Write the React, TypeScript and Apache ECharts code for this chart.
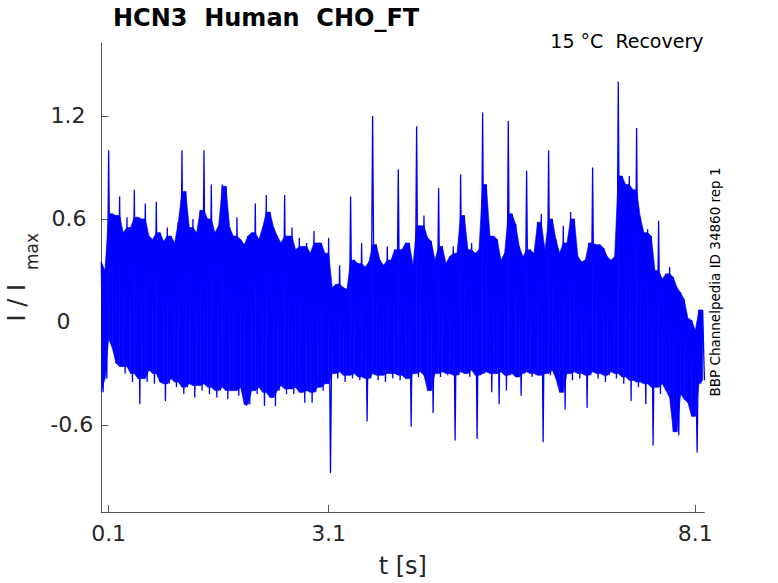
import React, { useEffect, useRef } from "react";
import * as echarts from "echarts";

// ---- data ----
const xTicks = [0.1, 3.1, 8.1];
const xTickLabels = ["0.1", "3.1", "8.1"];
const yTicks = [-0.6, 0, 0.6, 1.2];
const yTickLabels = ["-0.6", "0", "0.6", "1.2"];

// sampling step of the binned trace [s]
const binStep = 0.05;

// per-bin maxima of I/Imax (bin i starts at t = i * binStep)
const upperValues = [
  0.35, 0.30, 1.00, 0.63, 0.62, 0.73, 0.52, 0.61, 0.55, 0.77,
  0.61, 0.60, 0.69, 0.50, 0.48, 0.70, 0.52, 0.47, 0.55, 0.50,
  0.46, 0.58, 1.00, 0.76, 0.55, 0.60, 0.52, 0.65, 1.00, 0.60,
  0.80, 0.52, 0.56, 0.80, 0.79, 0.55, 0.50, 0.61, 0.48, 0.45,
  0.50, 0.52, 0.69, 0.48, 0.55, 0.74, 0.64, 0.55, 0.50, 0.46,
  0.74, 0.50, 0.55, 0.42, 0.49, 0.44, 0.46, 0.40, 0.53, 0.46,
  0.46, 0.40, 0.49, 0.20, 0.22, 0.33, 0.20, 0.19, 0.73, 0.36,
  0.34, 0.46, 0.32, 0.35, 1.20, 0.45, 0.36, 0.33, 0.44, 0.36,
  0.42, 0.89, 0.42, 0.46, 0.46, 0.33, 1.14, 0.56, 0.62, 0.49,
  0.47, 0.36, 0.78, 0.44, 0.34, 0.38, 0.44, 0.40, 0.86, 0.62,
  0.42, 0.46, 0.40, 0.42, 1.22, 0.80, 0.50, 0.50, 0.48, 0.36,
  0.40, 1.17, 0.63, 0.57, 0.44, 0.38, 0.88, 0.42, 0.40, 0.58,
  0.63, 0.42, 1.00, 0.60, 0.48, 0.40, 0.56, 0.46, 0.64, 0.60,
  0.38, 0.35, 0.36, 0.46, 0.90, 0.45, 0.45, 0.43, 0.38, 0.36,
  0.38, 1.40, 0.85, 0.80, 0.85, 0.77, 1.13, 0.61, 0.52, 0.54,
  0.50, 0.30, 0.59, 0.25, 0.28, 0.32, 0.26, 0.20, 0.17, 0.13,
  0.02, 0.01, -0.05, 0.07, 0.07,
];

// per-bin minima of I/Imax
const lowerValues = [
  -0.41, -0.33, -0.10, -0.15, -0.24, -0.26, -0.30, -0.26, -0.35, -0.30,
  -0.48, -0.33, -0.35, -0.28, -0.36, -0.30, -0.35, -0.46, -0.36, -0.33,
  -0.38, -0.35, -0.42, -0.38, -0.36, -0.44, -0.37, -0.40, -0.36, -0.42,
  -0.38, -0.44, -0.40, -0.38, -0.45, -0.40, -0.40, -0.43, -0.38, -0.49,
  -0.48, -0.40, -0.42, -0.38, -0.49, -0.41, -0.44, -0.49, -0.40, -0.37,
  -0.42, -0.39, -0.42, -0.38, -0.41, -0.47, -0.40, -0.47, -0.41, -0.38,
  -0.40, -0.36, -0.88, -0.30, -0.33, -0.29, -0.35, -0.31, -0.33, -0.30,
  -0.34, -0.32, -0.58, -0.33, -0.30, -0.34, -0.31, -0.35, -0.30, -0.33,
  -0.30, -0.34, -0.31, -0.33, -0.61, -0.30, -0.32, -0.29, -0.31, -0.40,
  -0.53, -0.30, -0.32, -0.29, -0.31, -0.30, -0.69, -0.31, -0.29, -0.30,
  -0.32, -0.28, -0.68, -0.31, -0.30, -0.29, -0.41, -0.30, -0.48, -0.29,
  -0.40, -0.31, -0.30, -0.32, -0.43, -0.30, -0.29, -0.32, -0.30, -0.31,
  -0.70, -0.30, -0.31, -0.28, -0.33, -0.41, -0.51, -0.30, -0.34, -0.29,
  -0.33, -0.30, -0.50, -0.31, -0.29, -0.33, -0.30, -0.35, -0.31, -0.29,
  -0.33, -0.30, -0.36, -0.32, -0.46, -0.34, -0.38, -0.35, -0.48, -0.36,
  -0.72, -0.38, -0.42, -0.36, -0.40, -0.44, -0.64, -0.66, -0.42, -0.45,
  -0.47, -0.55, -0.76, -0.36, -0.34,
];

const FONT = '"DejaVu Sans", "Noto Sans", sans-serif';
const AXIS_COLOR = "#555555";
const TEXT_COLOR = "#262626";
const TRACE_COLOR = "#0000ff";

export default function App() {
  const ref = useRef<HTMLDivElement>(null);

  useEffect(() => {
    if (!ref.current) return;
    const chart = echarts.init(ref.current, null, { renderer: "svg" });

    const n = upperValues.length;
    // zig-zag trace: bin maximum at t, bin minimum half a bin later
    const trace: number[][] = [];
    for (let i = 0; i < n; i++) {
      const t = Number((i * binStep).toFixed(4));
      trace.push([t, upperValues[i]]);
      trace.push([Number((t + binStep / 2).toFixed(4)), lowerValues[i]]);
    }
    // dense core of the trace: isolated spikes are left to the thin line
    const coreHi = upperValues.map((v, i) =>
      Math.min(v, Math.max(upperValues[Math.max(0, i - 1)], upperValues[Math.min(n - 1, i + 1)]))
    );
    const coreLo = lowerValues.map((v, i) =>
      Math.max(v, Math.min(lowerValues[Math.max(0, i - 1)], lowerValues[Math.min(n - 1, i + 1)]))
    );
    const band: number[][] = [];
    for (let i = 0; i + 1 < n; i++) {
      band.push([
        Number((i * binStep).toFixed(4)),
        coreHi[i],
        coreLo[i],
        Number(((i + 1) * binStep).toFixed(4)),
        coreHi[i + 1],
        coreLo[i + 1],
      ]);
    }

    const yPad = [0, 22.7, 6.7, 7.7];
    const rich: Record<string, any> = {};
    yTickLabels.forEach((_, i) => {
      rich["r" + i] = {
        fontSize: 22,
        fontFamily: FONT,
        color: TEXT_COLOR,
        padding: [0, yPad[i], 0, 0],
      };
    });

    const textStyle = (text: string, font: string, fill: string, align: string) => ({
      text,
      font,
      fill,
      textAlign: align,
      textVerticalAlign: "middle",
      align,
      verticalAlign: "middle",
    });

    const option: any = {
      animation: false,
      backgroundColor: "#ffffff",
      grid: { left: 101.3, top: 43.3, right: 73.7, bottom: 71, containLabel: false },
      xAxis: {
        type: "value",
        min: 0,
        max: 8.223,
        axisLine: { show: true, onZero: false, lineStyle: { color: AXIS_COLOR, width: 1 } },
        axisTick: {
          show: true,
          inside: true,
          length: 7,
          customValues: xTicks,
          lineStyle: { color: AXIS_COLOR, width: 1 },
        },
        axisLabel: {
          customValues: xTicks,
          margin: 10,
          fontSize: 22,
          fontFamily: FONT,
          color: TEXT_COLOR,
          formatter: (v: number) => {
            const i = xTicks.findIndex((t) => Math.abs(t - v) < 1e-6);
            return i >= 0 ? xTickLabels[i] : "";
          },
        },
        splitLine: { show: false },
      },
      yAxis: {
        type: "value",
        min: -1.107,
        max: 1.623,
        axisLine: { show: true, onZero: false, lineStyle: { color: AXIS_COLOR, width: 1 } },
        axisTick: {
          show: true,
          inside: true,
          length: 7,
          customValues: yTicks,
          lineStyle: { color: AXIS_COLOR, width: 1 },
        },
        axisLabel: {
          customValues: yTicks,
          margin: 8,
          fontSize: 22,
          fontFamily: FONT,
          color: TEXT_COLOR,
          formatter: (v: number) => {
            const i = yTicks.findIndex((t) => Math.abs(t - v) < 1e-6);
            return i >= 0 ? "{r" + i + "|" + yTickLabels[i] + "}" : "";
          },
          rich,
        },
        splitLine: { show: false },
      },
      series: [
        {
          type: "custom",
          name: "band",
          data: band,
          silent: true,
          clip: true,
          encode: { x: [0, 3], y: [1, 2, 4, 5] },
          renderItem: (params: any, api: any) => {
            const p1 = api.coord([api.value(0), api.value(1)]);
            const p2 = api.coord([api.value(3), api.value(4)]);
            const p3 = api.coord([api.value(3), api.value(5)]);
            const p4 = api.coord([api.value(0), api.value(2)]);
            return {
              type: "polygon",
              shape: { points: [p1, p2, p3, p4] },
              style: { fill: TRACE_COLOR, stroke: TRACE_COLOR, lineWidth: 0.6 },
            };
          },
        },
        {
          type: "line",
          name: "trace",
          data: trace,
          showSymbol: false,
          symbol: "none",
          silent: true,
          clip: true,
          lineStyle: { color: TRACE_COLOR, width: 1.3 },
        },
      ],
      graphic: [
        {
          type: "text",
          x: 113,
          y: 18,
          style: textStyle("HCN3  Human  CHO_FT", "bold 24px " + FONT, "#000000", "left"),
        },
        {
          type: "text",
          x: 703.5,
          y: 40.5,
          style: textStyle("15 °C  Recovery", "19px " + FONT, "#000000", "right"),
        },
        {
          type: "text",
          x: 715.4,
          y: 396.5,
          rotation: Math.PI / 2,
          style: textStyle("BBP Channelpedia ID 34860 rep 1", "13.5px " + FONT, "#000000", "left"),
        },
        {
          type: "text",
          x: 16.5,
          y: 321.5,
          rotation: Math.PI / 2,
          style: textStyle("I / I", "24px " + FONT, TEXT_COLOR, "left"),
        },
        {
          type: "text",
          x: 32,
          y: 270,
          rotation: Math.PI / 2,
          style: textStyle("max", "17px " + FONT, TEXT_COLOR, "left"),
        },
        {
          type: "text",
          x: 402.8,
          y: 566.4,
          style: textStyle("t [s]", "24px " + FONT, TEXT_COLOR, "center"),
        },
      ],
    };

    chart.setOption(option);
    return () => chart.dispose();
  }, []);

  return (
    <div
      ref={ref}
      style={{ position: "fixed", left: 0, top: 0, width: 778, height: 583, background: "#ffffff" }}
    />
  );
}
